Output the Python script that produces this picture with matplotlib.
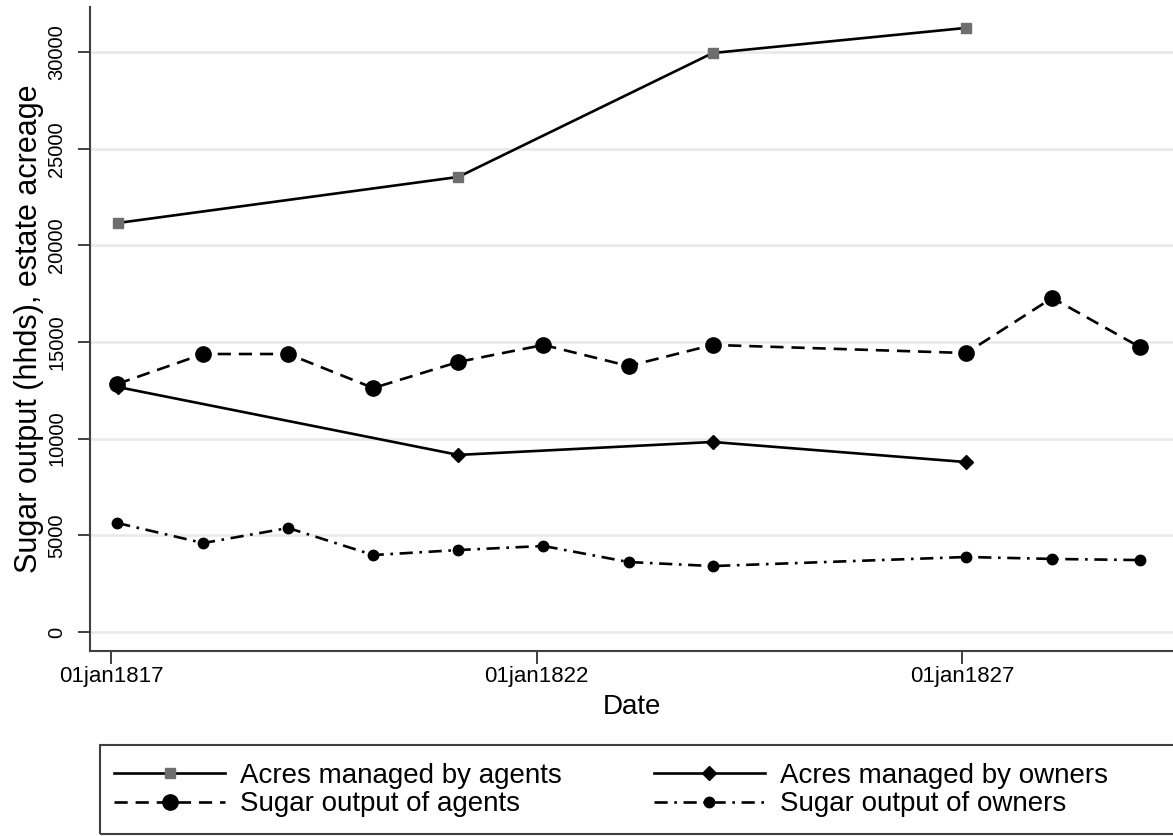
import matplotlib
matplotlib.use('Agg')
import matplotlib.pyplot as plt
from matplotlib.patches import Rectangle
from matplotlib import font_manager

plt.rcParams['font.family'] = ['Liberation Sans', 'DejaVu Sans']

# dates as decimal years (observations fall near the end of january)
yrs_acres = [1817.08, 1821.08, 1824.07, 1827.05]
acres_agents = [21160, 23540, 29950, 31250]
acres_owners = [12670, 9160, 9830, 8790]

yrs_sugar = [1817.07, 1818.08, 1819.08, 1820.08, 1821.08, 1822.08,
             1823.08, 1824.07, 1827.05, 1828.06, 1829.09]
sugar_agents = [12830, 14380, 14380, 12620, 13970, 14850,
                13760, 14850, 14430, 17280, 14740]
sugar_owners = [5640, 4600, 5380, 3980, 4240, 4450,
                3620, 3410, 3880, 3780, 3720]

xtick_pos = [1817, 1822, 1827]
xtick_lab = ['01jan1817', '01jan1822', '01jan1827']
ytick_pos = [0, 5000, 10000, 15000, 20000, 25000, 30000]

names = [f.name for f in font_manager.fontManager.ttflist]
narrow = 'Liberation Sans Narrow' if 'Liberation Sans Narrow' in names else 'Liberation Sans'

fig = plt.figure(figsize=(11.73, 8.36), dpi=100)
ax = fig.add_axes([90/1173, 185/836, 1 - 90/1173, 644/836])

lw = 1.9
l1, = ax.plot(yrs_acres, acres_agents, color='black', lw=lw, marker='s',
              markersize=7, markerfacecolor='#6e6e6e', markeredgecolor='#6e6e6e',
              label='Acres managed by agents', zorder=3)
l2, = ax.plot(yrs_acres, acres_owners, color='black', lw=lw, marker='D',
              markersize=7.5, markerfacecolor='black', markeredgecolor='black',
              label='Acres managed by owners', zorder=3)
l3, = ax.plot(yrs_sugar, sugar_agents, color='black', lw=lw, ls=(0, (5, 3)),
              marker='o', markersize=11, markerfacecolor='black',
              label='Sugar output of agents', zorder=3)
l4, = ax.plot(yrs_sugar, sugar_owners, color='black', lw=lw,
              ls=(0, (5, 2.5, 1, 2.5)), marker='o', markersize=7.5,
              markerfacecolor='black', label='Sugar output of owners', zorder=3)

ax.set_xlim(1816.75, 1829.48)
ax.set_ylim(-983, 32330)

ax.set_xticks(xtick_pos)
ax.set_xticklabels(xtick_lab, fontsize=16, family=[narrow, 'DejaVu Sans'])
ax.set_yticks(ytick_pos)
ax.set_yticklabels([str(v) for v in ytick_pos], fontsize=14.5, rotation=90,
                   va='center')
ax.tick_params(axis='both', direction='out', length=9, width=1.4,
               color='#404040')
ax.tick_params(axis='x', pad=1.5)
ax.tick_params(axis='y', pad=8)

ax.grid(axis='y', color='#e8e8e8', lw=1.8)
ax.set_axisbelow(True)
for side in ['top', 'right']:
    ax.spines[side].set_visible(False)
for side in ['left', 'bottom']:
    ax.spines[side].set_color('#404040')
    ax.spines[side].set_linewidth(1.5)

ax.set_xlabel('Date', fontsize=20, labelpad=5)
ax.set_ylabel('Sugar output (hhds), estate acreage', fontsize=22, labelpad=0)
ax.yaxis.set_label_coords(-46/1083, 0.5)

# legend box reaches past the right edge of the picture
fig.patches.append(Rectangle((100/1173, 2/836), 1100/1173, 89/836,
                             transform=fig.transFigure, fill=False,
                             edgecolor='#404040', lw=1.5))
fig.legend(handles=[l1, l3, l2, l4], loc='upper left',
           bbox_to_anchor=(114/1173, (836 - 763)/836), ncol=2,
           fontsize=20, frameon=False, handlelength=4.0, handletextpad=0.55,
           columnspacing=3.3, labelspacing=0.08, borderpad=0, borderaxespad=0)

fig.savefig('out.png', dpi=100)
